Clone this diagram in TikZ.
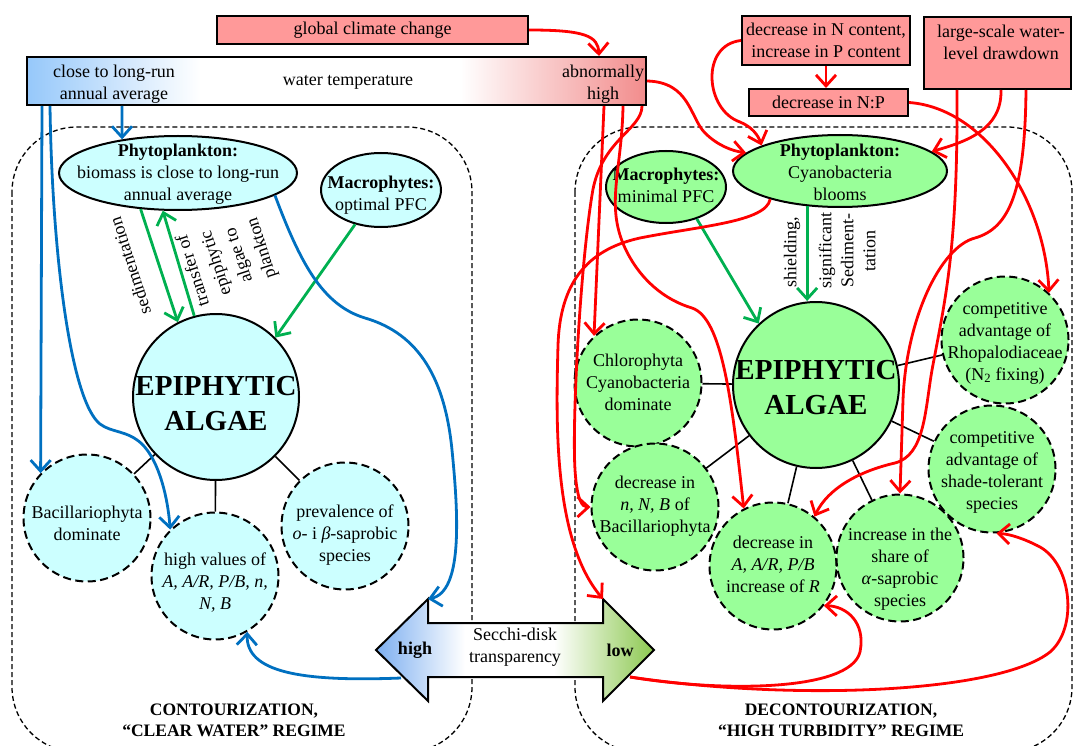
\documentclass[tikz,border=0pt]{standalone}
\usepackage{fontspec}
\setmainfont{Liberation Serif}
\usetikzlibrary{shapes.geometric,arrows.meta}
\definecolor{cyanfill}{RGB}{204,255,255}
\definecolor{grnfill}{RGB}{153,255,153}
\definecolor{boxred}{RGB}{255,153,153}
\definecolor{lred}{RGB}{255,0,0}
\definecolor{lblue}{RGB}{0,112,192}
\definecolor{lgreen}{RGB}{0,176,80}
\definecolor{tblue}{RGB}{150,200,250}
\definecolor{tred}{RGB}{242,140,140}
\definecolor{sblue}{RGB}{125,175,240}
\definecolor{sgreen}{RGB}{140,200,80}
\pgfdeclarehorizontalshading{tempshade}{100bp}{color(0bp)=(tblue); color(25bp)=(tblue); color(39bp)=(white); color(60bp)=(white); color(75bp)=(tred); color(100bp)=(tred)}
\pgfdeclarehorizontalshading{secchishade}{100bp}{color(0bp)=(sblue); color(25bp)=(sblue); color(41bp)=(white); color(57bp)=(white); color(75bp)=(sgreen); color(100bp)=(sgreen)}
\begin{document}
\begin{tikzpicture}[x=1pt,y=-1pt,
  txt/.style={font=\fontsize{18}{22}\selectfont, align=center, inner sep=0pt},
  btxt/.style={font=\fontsize{17.5}{21}\selectfont\bfseries, align=center, inner sep=0pt},
  epitxt/.style={font=\fontsize{29}{35}\selectfont\bfseries, align=center, inner sep=0pt},
  rbox/.style={draw, line width=2pt, fill=boxred, inner sep=0pt, font=\fontsize{18}{22}\selectfont, align=center},
  ell/.style={ellipse, draw, line width=2pt, inner sep=0pt},
  sat/.style={circle, draw, line width=2pt, dash pattern=on 8pt off 4.5pt, inner sep=0pt, minimum size=127pt},
  epic/.style={circle, draw, line width=2pt, inner sep=0pt, minimum size=166pt},
  panel/.style={draw, line width=1.3pt, dash pattern=on 5pt off 3pt, rounded corners=65pt},
  link/.style={draw, line width=1.6pt},
  rl/.style={draw=lred, line width=2.8pt, -{Straight Barb[length=11pt,width=20pt]}},
  bl/.style={draw=lblue, line width=2.8pt, -{Straight Barb[length=11pt,width=20pt]}},
  gl/.style={draw=lgreen, line width=2.8pt, -{Straight Barb[length=11pt,width=20pt]}},
  lbl/.style={font=\fontsize{18}{24}\selectfont, align=center, inner sep=0pt}
]
\useasboundingbox (0,0) rectangle (1073,746);
\clip (0,0) rectangle (1073,746);

% panels
\draw[panel] (12,127) rectangle (472,752);
\draw[panel] (575,127) rectangle (1072,752);

% top boxes
\node[rbox, minimum width=311pt, minimum height=28pt] (gcc) at (372.5,30) {global climate change};
\node[rbox, minimum width=168pt, minimum height=49pt] (dnc) at (826,40.5) {decrease in N content,\\increase in P content};
\node[rbox, minimum width=159pt, minimum height=27pt] (dnp) at (828.5,102.5) {decrease in N:P};
\node[rbox, minimum width=147pt, minimum height=72pt] (lsw) at (997.5,53) {};
\node[txt] (lswt) at (1001,42.5) {large-scale water-\\level drawdown};

% temperature bar
\node[draw, line width=2pt, shade, shading=tempshade, minimum width=619pt, minimum height=48pt, inner sep=0pt] (temp) at (336.5,81) {};
\node[txt] (tlow) at (114,84) {close to long-run\\annual average};
\node[txt] (tmid) at (348,82) {water temperature};
\node[txt] (thigh) at (603,84) {abnormally\\high};

% Secchi arrow
\shadedraw[shading=secchishade, line width=2pt, line join=miter] (376,650) -- (428,599) -- (428,623) -- (603,623) -- (603,599) -- (654,650) -- (603,701) -- (603,677) -- (428,677) -- (428,701) -- cycle;
\coordinate (hiTop) at (428,599);
\coordinate (hiBot) at (401,678);
\coordinate (loTop) at (603,599);
\coordinate (loBot) at (630,677);
\node[txt, font=\fontsize{18}{22}\selectfont\bfseries] (hi) at (415,650) {high};
\node[txt, font=\fontsize{18}{22}\selectfont\bfseries] (lo) at (620,650) {low};
\node[txt] (secchi) at (515,647) {Secchi-disk\\transparency};

% left panel nodes
\node[ell, fill=cyanfill, minimum width=238pt, minimum height=74pt] (phL) at (178,173) {};
\node[txt] (phLt) at (178,174) {\textbf{Phytoplankton:}\\biomass is close to long-run\\annual average};
\node[ell, fill=cyanfill, minimum width=120pt, minimum height=74pt] (macL) at (381,190) {};
\node[txt] (macLt) at (381,195) {\textbf{Macrophytes:}\\optimal PFC};
\node[epic, fill=cyanfill] (epiL) at (216,397) {};
\node[epitxt] (epiLt) at (216,404) {EPIPHYTIC\\ALGAE};
\node[sat, fill=cyanfill] (bacL) at (87,518) {};
\node[txt] (bacLt) at (87,523) {Bacillariophyta\\dominate};
\node[sat, fill=cyanfill] (hvL) at (215,576) {};
\node[txt] (hvLt) at (215,583) {high values of\\\textit{A, A/R, P/B, n,}\\\textit{N, B}};
\node[sat, fill=cyanfill] (prL) at (345,526) {};
\node[txt] (prLt) at (345,535) {prevalence of\\\textit{o}- i \textit{β}-saprobic\\species};

% right panel nodes
\node[ell, fill=grnfill, minimum width=214pt, minimum height=72pt] (phR) at (840,171) {};
\node[txt] (phRt) at (840,172) {\textbf{Phytoplankton:}\\Cyanobacteria\\blooms};
\node[ell, fill=grnfill, minimum width=120pt, minimum height=72pt] (macR) at (666,187) {};
\node[txt] (macRt) at (666,185) {\textbf{Macrophytes:}\\minimal PFC};
\node[epic, fill=grnfill] (epiR) at (816,385) {};
\node[epitxt] (epiRt) at (816,388) {EPIPHYTIC\\ALGAE};
\node[sat, fill=grnfill] (chl) at (638,383) {};
\node[txt] (chlt) at (638,382) {Chlorophyta\\Cyanobacteria\\dominate};
\node[sat, fill=grnfill] (dnb) at (655,507) {};
\node[txt] (dnbt) at (655,506) {decrease in\\\textit{n, N, B} of\\Bacillariophyta};
\node[sat, fill=grnfill] (dar) at (773,566) {};
\node[txt] (dart) at (773,564) {decrease in\\\textit{A, A/R, P/B}\\increase of \textit{R}};
\node[sat, fill=grnfill] (asp) at (900,558) {};
\node[txt] (aspt) at (900,569) {increase in the\\share of\\\textit{α}-saprobic\\species};
\node[sat, fill=grnfill] (sht) at (992,469) {};
\node[txt] (shtt) at (992,472) {competitive\\advantage of\\shade-tolerant\\species};
\node[sat, fill=grnfill] (rho) at (1005,340) {};
\node[txt] (rhot) at (1005,343) {competitive\\advantage of\\Rhopalodiaceae\\(N\textsubscript{2} fixing)};

% bottom labels
\node[btxt] (lregime) at (234,720) {CONTOURIZATION,\\“CLEAR WATER” REGIME};
\node[btxt] (rregime) at (841,720) {DECONTOURIZATION,\\“HIGH TURBIDITY” REGIME};

% rotated labels
\node[lbl, rotate=108] (sedl) at (130,266) {sedimentation};
\node[lbl, rotate=108] (trl) at (228,259) {transfer of\\epiphytic\\algae to\\plankton};
\node[lbl, rotate=90] (shl) at (792,252) {shielding,};
\node[lbl, font=\fontsize{18}{22}\selectfont, rotate=90] (sigl) at (847,251) {significant\\Sediment-\\tation};

% black links
\draw[link] (epiL) -- (bacL);
\draw[link] (epiL) -- (hvL);
\draw[link] (epiL) -- (prL);
\draw[link] (epiR) -- (chl);
\draw[link] (epiR) -- (dnb);
\draw[link] (epiR) -- (dar);
\draw[link] (epiR) -- (asp);
\draw[link] (epiR) -- (sht);
\draw[link] (epiR) -- (rho);

% green arrows
\draw[gl] (phL.224) -- (epiL.117);
\draw[gl] (epiL.105) -- (phL.248);
\draw[gl] (macL.233) -- (epiL.45);
\draw[gl] (macR.314) -- (epiR.133);
\draw[gl] (phR.227) -- (phR.227 |- epiR.north);

% blue arrows
\draw[bl] ([xshift=16pt]temp.south west) -- (bacL.136);
\draw[bl] ([xshift=24pt]temp.south west) .. controls (52,250) and (70,400) .. (100,424) .. controls (112,433) and (127,430) .. (142,444) .. controls (160,462) and (168,500) .. (hvL.134);
\draw[bl] ([xshift=96pt]temp.south west) -- (phL.149);
\draw[bl] (phL.347) .. controls (300,262) and (322,305) .. (365,318) .. controls (420,334) and (445,380) .. (452,450) .. controls (459,520) and (462,592) .. (hiTop);
\draw[bl] (hiBot) .. controls (300,682) and (246,672) .. (hvL.-60);

% red arrows
\draw[rl] (gcc.east) .. controls (585,30) and (598,36) .. ([xshift=-48pt]temp.north east);
\draw[rl] (dnc.west) .. controls (700,45) and (705,110) .. (740,122) .. controls (752,127) and (758,135) .. (phR.162);
\draw[rl] (dnc.south) -- (dnc.south |- dnp.north);
\draw[rl] (dnp.east) .. controls (985,108) and (1045,200) .. (rho.47);
\draw[rl] ([xshift=78pt]lsw.south west) .. controls (1002,130) and (965,142) .. (phR.12);
\draw[rl] ([xshift=34pt]lsw.south west) .. controls (958,250) and (945,300) .. (932,370) .. controls (925,410) and (925,455) .. (895,463) .. controls (860,471) and (828,488) .. (dar.50);
\draw[rl] ([xshift=103pt]lsw.south west) .. controls (1025,190) and (1010,228) .. (975,238) .. controls (940,247) and (906,320) .. (903,400) -- (asp.north);
\draw[rl] ([xshift=-43pt]temp.south east) -- (chl.133);
\draw[rl] ([xshift=-24pt]temp.south east) .. controls (622,170) and (605,205) .. (625,248) .. controls (640,280) and (665,300) .. (692,308) .. controls (722,318) and (732,400) .. (dar.117);
\draw[rl] ([xshift=-5pt]temp.south east) .. controls (642,130) and (600,140) .. (592,195) .. controls (580,270) and (572,420) .. (575,470) .. controls (577,500) and (582,507) .. (dnb.west);
\draw[rl] (temp.east) .. controls (690,82) and (690,118) .. (705,133) .. controls (717,145) and (732,151) .. (phR.169);
\draw[rl] (phR.202) .. controls (766,222) and (700,226) .. (640,238) .. controls (585,250) and (560,285) .. (558,345) .. controls (556,420) and (553,540) .. (loTop);
\draw[rl] (loBot) .. controls (720,692) and (850,692) .. (860,652) .. controls (866,622) and (846,606) .. (dar.-38);
\draw[rl] (loBot) .. controls (800,702) and (1000,692) .. (1050,652) .. controls (1078,628) and (1072,565) .. (1040,547) .. controls (1025,539) and (1010,534) .. (sht.-86);
\end{tikzpicture}
\end{document}
